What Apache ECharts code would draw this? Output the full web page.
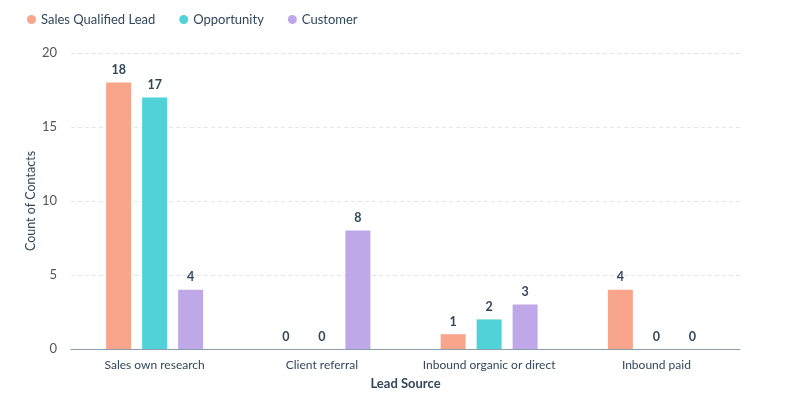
<!DOCTYPE html>
<html><head><meta charset="utf-8">
<script src="https://cdn.jsdelivr.net/npm/echarts@6/dist/echarts.min.js"></script>
<style>html,body{margin:0;padding:0;background:#fff}#c{width:800px;height:412px}</style>
</head><body><div id="c"></div>
<script>
const categories = ["Sales own research", "Client referral", "Inbound organic or direct", "Inbound paid"];
const seriesNames = ["Sales Qualified Lead", "Opportunity", "Customer"];
const sqlValues = [18, 0, 1, 4];
const oppValues = [17, 0, 2, 0];
const custValues = [4, 8, 3, 0];
const yTicks = [0, 5, 10, 15, 20];

const colors = ["#f8a58c", "#51d2d8", "#bea8e8"];
const font = "Lato, 'Open Sans', sans-serif";
const chart = echarts.init(document.getElementById('c'));
const vals = [sqlValues, oppValues, custValues];
chart.setOption({
  animation: false,
  color: colors,
  textStyle: {fontFamily: font},
  legend: {
    left: 22, top: 8, itemWidth: 9, itemHeight: 9, itemGap: 24, icon: 'circle',
    textStyle: {fontSize: 13, color: '#33475b', fontFamily: font}
  },
  grid: {left: 71, right: 60, top: 53, bottom: 63},
  xAxis: {
    type: 'category', data: categories,
    name: 'Lead Source', nameLocation: 'middle', nameGap: 28,
    nameTextStyle: {fontSize: 13, fontWeight: 'bold', color: '#33475b', fontFamily: font},
    axisLine: {lineStyle: {color: '#8a9db0', width: 1.2}},
    axisTick: {show: false},
    axisLabel: {interval: 0, fontSize: 12, color: '#33475b', margin: 10, fontFamily: font}
  },
  yAxis: {
    type: 'value', min: yTicks[0], max: yTicks[yTicks.length - 1], interval: 5,
    name: 'Count of Contacts', nameLocation: 'middle', nameGap: 34, nameRotate: 90,
    nameMoveOverlap: false,
    nameTextStyle: {fontSize: 12.5, color: '#33475b', fontFamily: font},
    axisLabel: {fontSize: 13, color: '#555', margin: 14, fontFamily: font},
    axisLine: {show: false}, axisTick: {show: false},
    splitLine: {lineStyle: {color: '#e2e6ea', type: [4, 3]}}
  },
  series: seriesNames.map((n, i) => ({
    name: n, type: 'bar', data: vals[i], barWidth: 25, barGap: '44%',
    label: {show: true, position: 'top', fontSize: 12.5, fontWeight: 'bold', color: '#33475b', distance: 6, fontFamily: font}
  }))
});
</script></body></html>
